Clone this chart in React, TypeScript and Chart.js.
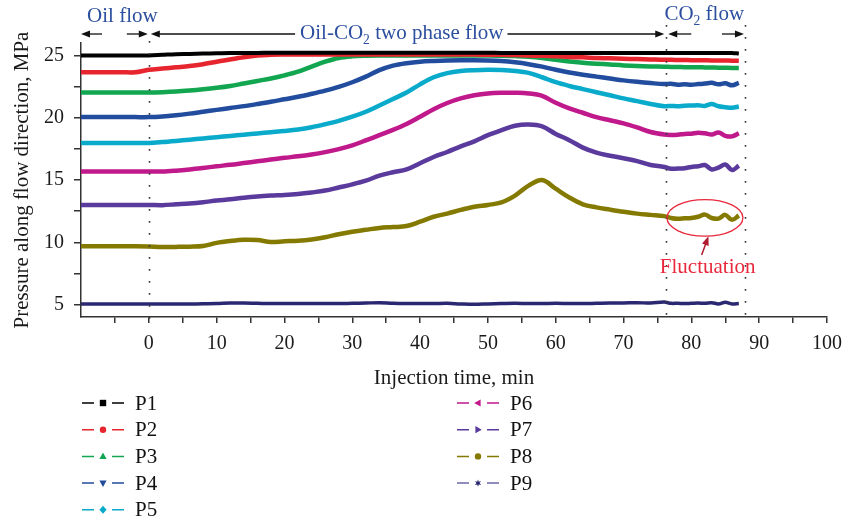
import React, { useEffect, useRef } from 'react';
import { Chart, registerables } from 'chart.js';

Chart.register(...registerables);

// ---------------- data ----------------
const times = [-10, -8, -6, -4, -2, 0, 2, 4, 6, 8, 10, 12, 14, 16, 18, 20, 22, 24, 26, 28, 30, 32, 34, 36, 38, 40, 42, 44, 46, 48, 50, 52, 54, 56, 58, 60, 62, 64, 66, 68, 70, 72, 74, 76, 77, 78, 79, 80, 81, 82, 83, 84, 85, 86, 87];

const p1 = [25.0, 25.0, 25.0, 25.0, 25.0,
  25.0, 25.05, 25.1, 25.12, 25.15, 25.18,
  25.2, 25.2, 25.2, 25.22, 25.22,
  25.22, 25.22, 25.22, 25.22, 25.22,
  25.22, 25.22, 25.22, 25.22, 25.22,
  25.22, 25.22, 25.22, 25.22, 25.22,
  25.2, 25.2, 25.2, 25.2, 25.2,
  25.2, 25.2, 25.2, 25.2, 25.2,
  25.2, 25.2, 25.2,
  25.2, 25.2, 25.2, 25.2, 25.2, 25.2, 25.2, 25.2, 25.2, 25.2, 25.15];

const p2 = [23.65, 23.65, 23.65, 23.65, 23.65,
  23.85, 23.95, 24.05, 24.15, 24.3, 24.5,
  24.68, 24.85, 25.0, 25.05, 25.07,
  25.08, 25.08, 25.08, 25.08, 25.08,
  25.08, 25.08, 25.08, 25.08, 25.08,
  25.08, 25.08, 25.07, 25.07, 25.06,
  25.05, 25.03, 25.0, 24.97, 24.93,
  24.88, 24.85, 24.8, 24.77, 24.74,
  24.71, 24.68, 24.65,
  24.65, 24.64, 24.63, 24.62, 24.62, 24.61, 24.6, 24.6, 24.59, 24.58, 24.57];

const p3 = [22.02, 22.02, 22.02, 22.02, 22.02,
  22.02, 22.05, 22.1, 22.18, 22.28, 22.4,
  22.55, 22.75, 22.95, 23.15, 23.4,
  23.7, 24.1, 24.5, 24.8, 24.93,
  24.98, 25.0, 25.0, 25.0, 25.0,
  25.0, 25.0, 25.0, 25.0, 25.0,
  24.98, 24.95, 24.9, 24.8, 24.65,
  24.52, 24.42, 24.34, 24.27, 24.2,
  24.15, 24.12, 24.1,
  24.08, 24.07, 24.06, 24.05, 24.05, 24.04, 24.03, 24.02, 24.01, 24.0, 24.0];

const p4 = [20.05, 20.05, 20.05, 20.05, 20.05,
  20.05, 20.1, 20.2, 20.33, 20.48, 20.63,
  20.78, 20.93, 21.1, 21.28, 21.48,
  21.68, 21.92, 22.18, 22.48, 22.85,
  23.3, 23.82, 24.18, 24.38, 24.5,
  24.56, 24.6, 24.62, 24.62, 24.6,
  24.55, 24.45, 24.3, 24.1, 23.85,
  23.63, 23.45, 23.3, 23.15, 23.0,
  22.88, 22.78, 22.7,
  22.72, 22.65, 22.68, 22.65, 22.7, 22.74, 22.8, 22.68, 22.76, 22.6, 22.8];

const p5 = [17.98, 17.98, 17.98, 17.98, 17.98,
  17.98, 18.05, 18.14, 18.24, 18.34, 18.44,
  18.54, 18.64, 18.74, 18.84, 18.94,
  19.06, 19.24, 19.48, 19.75, 20.08,
  20.48, 20.98, 21.5, 22.02, 22.68,
  23.25, 23.58, 23.75, 23.82, 23.85,
  23.83, 23.76, 23.6, 23.25, 22.85,
  22.55, 22.3, 22.05, 21.8, 21.55,
  21.33, 21.1, 20.92,
  20.95, 20.92, 20.96, 20.98, 21.0, 20.95, 21.1, 20.92, 20.85, 20.8, 20.9];

const p6 = [15.68, 15.68, 15.68, 15.68, 15.68,
  15.68, 15.68, 15.75, 15.85, 15.97, 16.1,
  16.22, 16.36, 16.5, 16.64, 16.78,
  16.9, 17.05, 17.24, 17.48, 17.78,
  18.18, 18.6, 19.02, 19.5, 20.08,
  20.68, 21.18, 21.55, 21.8, 21.95,
  22.0, 22.0, 21.95, 21.75, 21.2,
  20.75, 20.4, 20.05, 19.8, 19.55,
  19.22, 18.85, 18.65,
  18.62, 18.64, 18.7, 18.72, 18.8, 18.75, 18.65, 18.82, 18.55, 18.5, 18.75];

const p7 = [13.0, 13.0, 13.0, 13.0, 13.0,
  13.0, 12.98, 13.05, 13.12, 13.22, 13.35,
  13.45, 13.58, 13.68, 13.75, 13.8,
  13.88, 14.0, 14.15, 14.4, 14.65,
  14.95, 15.35, 15.62, 15.85, 16.35,
  16.85, 17.25, 17.7, 18.1, 18.6,
  19.0, 19.35, 19.45, 19.3, 18.7,
  18.2, 17.6, 17.2, 16.95, 16.75,
  16.52, 16.2, 16.05,
  15.9, 15.92, 15.95, 16.05, 16.1, 16.2, 15.85, 16.0, 16.25, 15.8, 16.15];

const p8 = [9.68, 9.68, 9.68, 9.68, 9.68,
  9.66, 9.62, 9.63, 9.65, 9.7, 9.95,
  10.1, 10.2, 10.18, 10.02, 10.08,
  10.12, 10.22, 10.4, 10.65, 10.85,
  11.0, 11.15, 11.22, 11.3, 11.65,
  12.05, 12.3, 12.6, 12.85, 13.0,
  13.2, 13.75, 14.55, 15.0, 14.3,
  13.6, 13.05, 12.8, 12.62, 12.45,
  12.3, 12.2, 12.1,
  11.95, 11.88, 11.92, 11.95, 12.05, 12.22, 11.95, 11.9, 12.2, 11.8, 12.15];

const p9 = [5.05, 5.05, 5.05, 5.05, 5.05,
  5.05, 5.05, 5.05, 5.05, 5.06, 5.08,
  5.12, 5.12, 5.1, 5.08, 5.08,
  5.08, 5.08, 5.08, 5.08, 5.1,
  5.12, 5.15, 5.1, 5.08, 5.08,
  5.08, 5.1, 5.05, 5.02, 5.05,
  5.08, 5.1, 5.08, 5.08, 5.1,
  5.08, 5.08, 5.1, 5.12, 5.12,
  5.15, 5.12, 5.2,
  5.1, 5.1, 5.08, 5.1, 5.12, 5.1, 5.15, 5.05, 5.18, 5.05, 5.08];

const seriesNames = ['P1', 'P2', 'P3', 'P4', 'P5', 'P6', 'P7', 'P8', 'P9'];
const seriesValues = [p1, p2, p3, p4, p5, p6, p7, p8, p9];
const seriesColors = ['#000000', '#e6252e', '#12a650', '#224c9d', '#0aaacb', '#c0198b', '#5a3a9c', '#847a02', '#2a2870'];
const legendLineColors = ['#000000', '#e6252e', '#12a650', '#224c9d', '#0aaacb', '#c0198b', '#5a3a9c', '#847a02', '#6a68a6'];
const markerShapes = ['square', 'circle', 'triangle', 'triangleDown', 'diamond', 'triangleLeft', 'triangleRight', 'circle', 'star'];

const xMajorTicks = [0, 10, 20, 30, 40, 50, 60, 70, 80, 90, 100];
const xAllTicks = [-5, 0, 5, 10, 15, 20, 25, 30, 35, 40, 45, 50, 55, 60, 65, 70, 75, 80, 85, 90, 95, 100];
const yMajorTicks = [5, 10, 15, 20, 25];
const yAllTicks = [5, 7.5, 10, 12.5, 15, 17.5, 20, 22.5, 25];

const phaseBoundaries = [0, 76.3, 87.9];
const fluctuationCenter = { t: 82, p: 11.96 };
const fluctuationLabel = { t: 82.4, p: 8.1 };

// ---------------- styling ----------------
const FONT = '"Liberation Serif", "Times New Roman", Times, serif';
const BLUE = '#2d4f9f';
const RED = '#e8283c';
const DARKRED = '#b01c2e';
const AXIS = '#333333';

function arrowHead(ctx: CanvasRenderingContext2D, x: number, y: number, dir: number) {
  ctx.beginPath();
  ctx.moveTo(x, y);
  ctx.lineTo(x - dir * 9, y - 3.5);
  ctx.lineTo(x - dir * 9, y + 3.5);
  ctx.closePath();
  ctx.fill();
}

function hArrow(ctx: CanvasRenderingContext2D, x1: number, x2: number, y: number, headLeft: boolean, headRight: boolean) {
  ctx.beginPath();
  ctx.moveTo(headLeft ? x1 + 6 : x1, y);
  ctx.lineTo(headRight ? x2 - 6 : x2, y);
  ctx.stroke();
  if (headLeft) arrowHead(ctx, x1, y, -1);
  if (headRight) arrowHead(ctx, x2, y, 1);
}

// draws text segments [text, isSubscript] centered at (cx, cy); returns [left, right]
function richText(ctx: CanvasRenderingContext2D, parts: [string, boolean][], cx: number, cy: number, size: number, color: string) {
  const sub = size * 0.65;
  let w = 0;
  for (const [s, isSub] of parts) {
    ctx.font = `${isSub ? sub : size}px ${FONT}`;
    w += ctx.measureText(s).width;
  }
  let x = cx - w / 2;
  const base = cy + size * 0.33;
  ctx.fillStyle = color;
  ctx.textAlign = 'left';
  ctx.textBaseline = 'alphabetic';
  for (const [s, isSub] of parts) {
    ctx.font = `${isSub ? sub : size}px ${FONT}`;
    ctx.fillText(s, x, isSub ? base + size * 0.22 : base);
    x += ctx.measureText(s).width;
  }
  return [cx - w / 2, cx + w / 2];
}

function drawMarker(ctx: CanvasRenderingContext2D, shape: string, x: number, y: number, color: string) {
  const r = 3.2;
  ctx.fillStyle = color;
  ctx.beginPath();
  switch (shape) {
    case 'square':
      ctx.rect(x - r, y - r, 2 * r, 2 * r);
      break;
    case 'circle':
      ctx.arc(x, y, r, 0, Math.PI * 2);
      break;
    case 'triangle':
      ctx.moveTo(x, y - r - 0.6); ctx.lineTo(x + r + 0.4, y + r - 0.6); ctx.lineTo(x - r - 0.4, y + r - 0.6); ctx.closePath();
      break;
    case 'triangleDown':
      ctx.moveTo(x, y + r + 0.6); ctx.lineTo(x + r + 0.4, y - r + 0.6); ctx.lineTo(x - r - 0.4, y - r + 0.6); ctx.closePath();
      break;
    case 'diamond':
      ctx.moveTo(x, y - r - 0.8); ctx.lineTo(x + r + 0.4, y); ctx.lineTo(x, y + r + 0.8); ctx.lineTo(x - r - 0.4, y); ctx.closePath();
      break;
    case 'triangleLeft':
      ctx.moveTo(x - r - 0.6, y); ctx.lineTo(x + r - 0.6, y - r - 0.4); ctx.lineTo(x + r - 0.6, y + r + 0.4); ctx.closePath();
      break;
    case 'triangleRight':
      ctx.moveTo(x + r + 0.6, y); ctx.lineTo(x - r + 0.6, y - r - 0.4); ctx.lineTo(x - r + 0.6, y + r + 0.4); ctx.closePath();
      break;
    case 'star': {
      for (let i = 0; i < 12; i++) {
        const a = -Math.PI / 2 + (i * Math.PI) / 6;
        const rr = i % 2 === 0 ? r + 0.4 : r * 0.5;
        const px = x + rr * Math.cos(a);
        const py = y + rr * Math.sin(a);
        if (i === 0) ctx.moveTo(px, py); else ctx.lineTo(px, py);
      }
      ctx.closePath();
      break;
    }
  }
  ctx.fill();
}

const decorPlugin = {
  id: 'decor',
  afterDraw(chart: any) {
    const { ctx, chartArea, scales } = chart;
    const xs = scales.x;
    const ys = scales.y;
    ctx.save();

    // phase boundary dotted lines
    ctx.strokeStyle = '#3a3a3a';
    ctx.lineWidth = 1.6;
    ctx.setLineDash([1.8, 10.2]);
    phaseBoundaries.forEach((t, i) => {
      const px = Math.round(xs.getPixelForValue(t)) + 0.5;
      ctx.beginPath();
      ctx.moveTo(px, i === 0 ? chartArea.top - 2 : chartArea.top - 18);
      ctx.lineTo(px, chartArea.bottom + 7);
      ctx.stroke();
    });
    ctx.setLineDash([]);

    // flow regime arrows & labels
    const ay = chartArea.top - 9;
    ctx.strokeStyle = '#111';
    ctx.fillStyle = '#111';
    ctx.lineWidth = 1.3;
    const x0 = xs.getPixelForValue(0);
    const xc = xs.getPixelForValue(phaseBoundaries[1]);
    const xe = xs.getPixelForValue(phaseBoundaries[2]);
    hArrow(ctx, chartArea.left, chartArea.left + 21, ay, true, false);
    hArrow(ctx, x0 - 22, x0 - 1, ay, false, true);

    richText(ctx, [['Oil flow', false]], xs.getPixelForValue(-3.9), chartArea.top - 28, 21, BLUE);
    const [tl, tr] = richText(ctx, [['Oil-CO', false], ['2', true], [' two phase flow', false]], xs.getPixelForValue(37.3), ay - 2, 21, BLUE);
    ctx.strokeStyle = '#111';
    ctx.fillStyle = '#111';
    hArrow(ctx, x0 + 2, tl - 5, ay, true, false);
    hArrow(ctx, tr + 4, xc - 2, ay, false, true);
    hArrow(ctx, xc + 2, xc + 25, ay, true, false);
    hArrow(ctx, xe - 23, xe - 1, ay, false, true);
    richText(ctx, [['CO', false], ['2', true], [' flow', false]], xs.getPixelForValue(81.9), chartArea.top - 30, 21, BLUE);

    // fluctuation highlight
    const ex = xs.getPixelForValue(fluctuationCenter.t);
    const ey = ys.getPixelForValue(fluctuationCenter.p);
    ctx.strokeStyle = RED;
    ctx.lineWidth = 1.3;
    ctx.beginPath();
    ctx.ellipse(ex, ey, 38, 18.3, 0, 0, Math.PI * 2);
    ctx.stroke();
    const lx = xs.getPixelForValue(fluctuationLabel.t);
    const ly = ys.getPixelForValue(fluctuationLabel.p);
    richText(ctx, [['Fluctuation', false]], lx, ly, 21, RED);
    ctx.strokeStyle = DARKRED;
    ctx.fillStyle = DARKRED;
    ctx.lineWidth = 1.5;
    const ax1 = lx - 6, ay1 = ly - 11, ax2 = ex + 3.5, ay2 = ey + 18.5;
    const ang = Math.atan2(ay2 - ay1, ax2 - ax1);
    ctx.beginPath();
    ctx.moveTo(ax1, ay1);
    ctx.lineTo(ax2 - 7 * Math.cos(ang), ay2 - 7 * Math.sin(ang));
    ctx.stroke();
    ctx.beginPath();
    ctx.moveTo(ax2, ay2);
    ctx.lineTo(ax2 - 9 * Math.cos(ang) + 3.5 * Math.sin(ang), ay2 - 9 * Math.sin(ang) - 3.5 * Math.cos(ang));
    ctx.lineTo(ax2 - 9 * Math.cos(ang) - 3.5 * Math.sin(ang), ay2 - 9 * Math.sin(ang) + 3.5 * Math.cos(ang));
    ctx.closePath();
    ctx.fill();

    // legend (two columns)
    const rowY0 = 403;
    const rowDy = 26.7;
    const cols = [{ x: 82, n: 5 }, { x: 457, n: 4 }];
    let idx = 0;
    cols.forEach((c) => {
      for (let r = 0; r < c.n; r++, idx++) {
        const y = rowY0 + r * rowDy;
        ctx.strokeStyle = legendLineColors[idx];
        ctx.lineWidth = 1.5;
        ctx.beginPath();
        ctx.moveTo(c.x, y); ctx.lineTo(c.x + 12, y);
        ctx.moveTo(c.x + 30, y); ctx.lineTo(c.x + 42, y);
        ctx.stroke();
        drawMarker(ctx, markerShapes[idx], c.x + 21, y, seriesColors[idx]);
        ctx.fillStyle = '#111';
        ctx.font = `21px ${FONT}`;
        ctx.textAlign = 'left';
        ctx.textBaseline = 'middle';
        ctx.fillText(seriesNames[idx], c.x + 53, y + 1);
      }
    });

    ctx.restore();
  },
};

export default function App() {
  const ref = useRef<HTMLCanvasElement>(null);

  useEffect(() => {
    document.body.style.margin = '0';
    const datasets = seriesNames.map((name, i) => ({
      label: name,
      data: times.map((t, k) => ({ x: t, y: seriesValues[i][k] })),
      borderColor: seriesColors[i],
      backgroundColor: seriesColors[i],
      borderWidth: i === 0 ? 4 : i === 8 ? 3.5 : 4.5,
      pointRadius: 0,
      tension: 0.35,
      fill: false,
    }));
    const chart = new Chart(ref.current as HTMLCanvasElement, {
      type: 'line',
      data: { datasets },
      options: {
        animation: false,
        responsive: false,
        devicePixelRatio: 1,
        layout: { padding: { top: 43, right: 16, bottom: 125, left: 0 } },
        plugins: { legend: { display: false }, tooltip: { enabled: false } },
        scales: {
          x: {
            type: 'linear',
            min: -10,
            max: 100,
            afterBuildTicks: (s: any) => { s.ticks = xAllTicks.map((v) => ({ value: v })); },
            afterFit: (s: any) => { s.height = 80; s.paddingRight = 16; s.paddingLeft = 0; },
            ticks: {
              autoSkip: false,
              maxRotation: 0,
              padding: 9,
              color: '#1a1a1a',
              font: { family: FONT, size: 20 },
              callback: (v: any) => (xMajorTicks.includes(Number(v)) ? String(v) : ''),
            },
            grid: { drawOnChartArea: false, drawTicks: true, tickLength: 6, color: AXIS, lineWidth: 1.5 },
            border: { display: true, color: AXIS, width: 1.5 },
            title: { display: true, text: 'Injection time, min', color: '#1a1a1a', font: { family: FONT, size: 21 }, padding: { top: 0, bottom: 6 } },
          },
          y: {
            type: 'linear',
            min: 4,
            max: 26,
            afterBuildTicks: (s: any) => { s.ticks = yAllTicks.map((v) => ({ value: v })); },
            afterFit: (s: any) => { s.width = 81; s.paddingTop = 0; s.paddingBottom = 0; },
            ticks: {
              autoSkip: false,
              padding: 10,
              color: '#1a1a1a',
              font: { family: FONT, size: 20 },
              callback: (v: any) => (yMajorTicks.includes(Number(v)) ? String(v) : ''),
            },
            grid: { drawOnChartArea: false, drawTicks: true, tickLength: 7, color: AXIS, lineWidth: 1.5 },
            border: { display: true, color: AXIS, width: 1.5 },
            title: { display: true, text: 'Pressure along flow direction, MPa', color: '#1a1a1a', font: { family: FONT, size: 21 }, padding: { top: 10, bottom: 0 } },
          },
        },
      } as any,
      plugins: [decorPlugin],
    });
    return () => chart.destroy();
  }, []);

  return (
    <div style={{ width: 843, height: 522 }}>
      <canvas ref={ref} width={843} height={522} style={{ display: 'block' }} />
    </div>
  );
}
